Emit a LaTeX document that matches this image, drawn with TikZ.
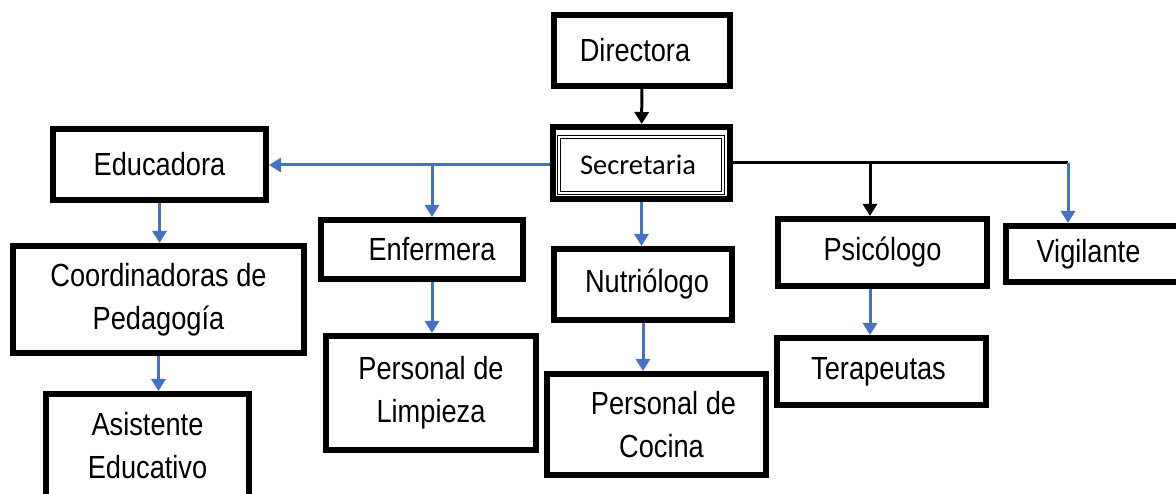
\documentclass[tikz,border=0pt]{standalone}
\usepackage{fontspec}
\setmainfont[FakeStretch=0.85]{Liberation Sans}
\newfontfamily\secfont{Carlito}
\usetikzlibrary{arrows.meta}
\definecolor{linkblue}{RGB}{68,114,196}

\begin{document}
\begin{tikzpicture}[x=1pt,y=1pt]
	\tikzstyle{every node}+=[inner sep=0pt, align=center, font=\fontsize{32}{43}\selectfont]
	\tikzstyle{box}=[draw, rectangle, line width=6pt]
	\tikzstyle{link}=[line width=3pt, -{Triangle[width=14pt,length=12pt]}]
	\useasboundingbox (0,0) rectangle (1176,-494);
	\node [box, minimum width=176pt, minimum height=71pt] (directora) at (642,-50.5) {Directora\hspace*{14pt}};
	\node [box, minimum width=177pt, minimum height=72pt] (secretaria) at (641.5,-163) {};
	\node [draw, rectangle, double, line width=1pt, double distance=1.5pt, minimum width=164pt, minimum height=56pt, font=\secfont\fontsize{28.5}{34}\selectfont] (secre) at (641,-165) {Secretaria\hspace*{6pt}};
	\node [box, minimum width=213pt, minimum height=71pt] (educadora) at (159.5,-164.5) {Educadora};
	\node [box, minimum width=291pt, minimum height=107pt] (coordinadoras) at (158.5,-299.5) {Coordinadoras de\\Pedagogía};
	\node [box, minimum width=203pt, minimum height=104pt] (asistente) at (147.5,-446) {Asistente\\Educativo};
	\node [box, minimum width=202pt, minimum height=59pt] (enfermera) at (422,-249.5) {\hspace*{20pt}Enfermera};
	\node [box, minimum width=210pt, minimum height=114pt] (limpieza) at (431,-393) {Personal de\\Limpieza};
	\node [box, minimum width=178pt, minimum height=71pt] (nutriologo) at (643,-284.5) {\hspace*{8pt}Nutriólogo};
	\node [box, minimum width=219pt, minimum height=101pt] (cocina) at (656.5,-424.5) {\hspace*{14pt}Personal de\\\hspace*{10pt}Cocina};
	\node [box, minimum width=209pt, minimum height=67pt] (psicologo) at (882.5,-252.5) {Psicólogo};
	\node [box, minimum width=209pt, minimum height=67pt] (terapeutas) at (881.5,-371.5) {Terapeutas\hspace*{6pt}};
	\node [box, minimum width=179pt, minimum height=56pt] (vigilante) at (1095.5,-254) {Vigilante\hspace*{14pt}};
	\coordinate (rama) at (432,-165);
	\coordinate (ramapsi) at (870,-163);
	\coordinate (esquina) at (1068,-163);
	\draw [link] (directora) -- (secretaria);
	\draw [link, linkblue] (secretaria.west |- rama) -- (rama -| educadora.east);
	\draw [link, linkblue] (rama) -- (rama |- enfermera.north);
	\draw [link, linkblue] (secretaria.south) -- (secretaria.south |- nutriologo.north);
	\draw [link, linkblue] (educadora.south) -- (educadora.south |- coordinadoras.north);
	\draw [link, linkblue] (coordinadoras.south) -- (coordinadoras.south |- asistente.north);
	\draw [link, linkblue] (enfermera.south -| rama) -- (rama |- limpieza.north);
	\draw [link, linkblue] (nutriologo.south) -- (nutriologo.south |- cocina.north);
	\draw [line width=3pt] (secretaria.east) -- (esquina);
	\draw [link] (ramapsi) -- (ramapsi |- psicologo.north);
	\draw [link, linkblue] (esquina) -- (esquina |- vigilante.north);
	\draw [link, linkblue] (psicologo.south -| ramapsi) -- (ramapsi |- terapeutas.north);
\end{tikzpicture}
\end{document}
